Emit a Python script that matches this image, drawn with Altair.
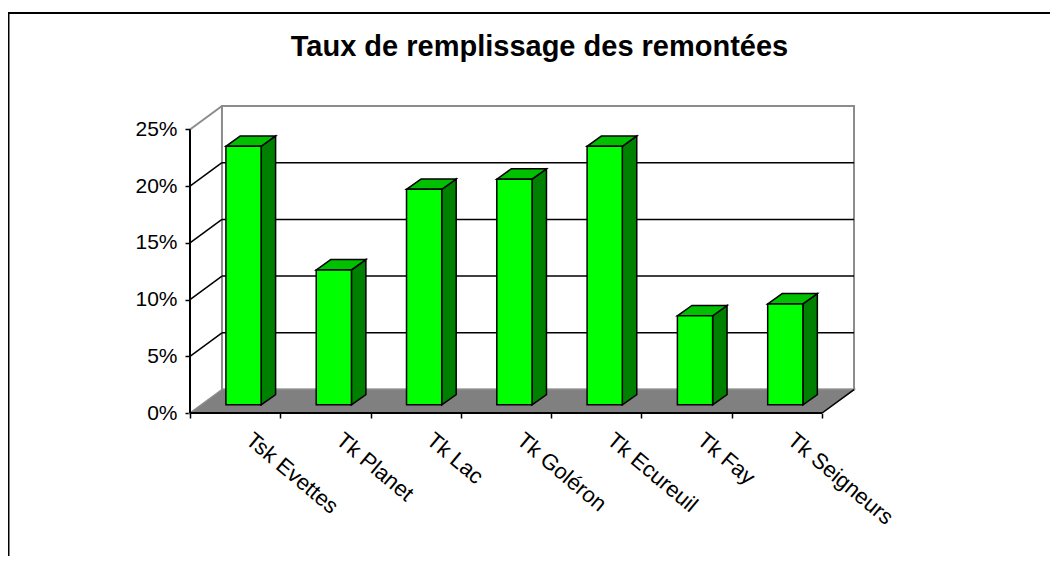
import altair as alt
import pandas as pd

# ---- data ----
categories = ["Tsk Evettes", "Tk Planet", "Tk Lac", "Tk Goléron",
              "Tk Ecureuil", "Tk Fay", "Tk Seigneurs"]
values = [22.8, 11.9, 19.0, 19.9, 22.8, 7.85, 8.9]   # percent
y_ticks = [0, 5, 10, 15, 20, 25]
title_text = "Taux de remplissage des remontées"

# ---- pseudo-3D styling constants (data units) ----
N = len(categories)
DXW, DYW = 0.354, 2.07          # depth of the floor / walls
XMAX = N + DXW
YMAX = 27.16
BAR_L, BAR_R = 0.398, 0.788     # bar front face inside its slot
BAR_BASE = 0.72                 # bars stand a bit behind the front edge
BAR_DX, BAR_DY = 0.16, 0.91     # bar depth
FONT = "Liberation Sans"

bars = pd.DataFrame({"idx": list(range(N)), "name": categories, "value": values})
bars["x0"] = bars["idx"] + BAR_L
bars["x1"] = bars["idx"] + BAR_R
bars["y0"] = BAR_BASE
bars["y1"] = BAR_BASE + bars["value"]

side_rows, top_rows = [], []
for _, r in bars.iterrows():
    side_rows.append({"idx": r.idx, "sx": r.x1, "sy0": r.y0, "sy1": r.y1})
    side_rows.append({"idx": r.idx, "sx": r.x1 + BAR_DX, "sy0": r.y0 + BAR_DY, "sy1": r.y1 + BAR_DY})
    top_rows.append({"idx": r.idx, "ty": r.y1, "tx0": r.x0, "tx1": r.x1})
    top_rows.append({"idx": r.idx, "ty": r.y1 + BAR_DY, "tx0": r.x0 + BAR_DX, "tx1": r.x1 + BAR_DX})
side = pd.DataFrame(side_rows)
top = pd.DataFrame(top_rows)

floor = pd.DataFrame({"fy": [0, DYW], "fx0": [0, DXW], "fx1": [N, N + DXW]})
ticks_df = pd.DataFrame({"v": y_ticks})
grid_df = ticks_df[(ticks_df.v > 0) & (ticks_df.v < max(y_ticks))]
one = pd.DataFrame({"k": [0]})

xs = alt.Scale(domain=[0, XMAX], nice=False, zero=False)
ys = alt.Scale(domain=[0, YMAX], nice=False, zero=False)

names_js = "[" + ",".join("'" + c + "'" for c in categories) + ",'']"

XA = alt.Axis(
    values=list(range(N + 1)), title=None, domain=False, grid=False,
    tickColor="black", tickSize=5, tickWidth=1.5,
    labelExpr=f"{names_js}[round(datum.value)]",
    labelAngle=40, labelAlign="left", labelBaseline="top",
    labelOffset=65, labelPadding=11, labelFont=FONT, labelFontSize=22,
    labelColor="black", labelOverlap=False, labelBound=False, labelFlush=False)
YA = alt.Axis(
    values=y_ticks, title=None, domain=False, grid=False,
    tickColor="black", tickSize=5, tickWidth=1.5,
    labelExpr="datum.value + '%'", labelPadding=8,
    labelFont=FONT, labelFontSize=21, labelColor="black")

# frame (only left and top edges visible in the reference)
frame = alt.Chart(one).mark_rect(fill="white", fillOpacity=0, stroke="black", strokeWidth=2).encode(
    x=alt.value(-181.5), x2=alt.value(1200), y=alt.value(-92), y2=alt.value(800))

title = alt.Chart(one).mark_text(text=title_text, font=FONT, fontSize=29, fontWeight="bold",
                                 align="center", baseline="alphabetic", color="black").encode(
    x=alt.value(349.5), y=alt.value(-49))

# back wall
wall = alt.Chart(one).mark_rect(fill="white", stroke="#8c8c8c", strokeWidth=2).encode(
    x=alt.datum(DXW, scale=xs, axis=XA), x2=alt.datum(XMAX),
    y=alt.datum(DYW, scale=ys, axis=YA), y2=alt.datum(DYW + max(y_ticks)))

wall_grid = alt.Chart(grid_df).transform_calculate(yb=f"datum.v + {DYW}").mark_rule(
    color="black", strokeWidth=1.5).encode(
    x=alt.datum(DXW, scale=xs, axis=XA), x2=alt.datum(XMAX),
    y=alt.Y("yb:Q", scale=ys, axis=YA))

side_wall = alt.Chart(grid_df).transform_calculate(yb=f"datum.v + {DYW}").mark_rule(
    color="black", strokeWidth=1.5).encode(
    x=alt.datum(0, scale=xs, axis=XA), x2=alt.datum(DXW),
    y=alt.Y("v:Q", scale=ys, axis=YA), y2="yb:Q")

side_top = alt.Chart(one).mark_rule(color="#8c8c8c", strokeWidth=2).encode(
    x=alt.datum(0, scale=xs, axis=XA), x2=alt.datum(DXW),
    y=alt.datum(max(y_ticks), scale=ys, axis=YA), y2=alt.datum(max(y_ticks) + DYW))

floor_l = alt.Chart(floor).mark_area(orient="horizontal", color="#808080",
                                     stroke="#8c8c8c", strokeWidth=1.5).encode(
    y=alt.Y("fy:Q", scale=ys, axis=YA),
    x=alt.X("fx0:Q", scale=xs, axis=XA), x2="fx1:Q")

floor_right = alt.Chart(one).mark_rule(color="black", strokeWidth=1.5).encode(
    x=alt.datum(N, scale=xs, axis=XA), x2=alt.datum(N + DXW),
    y=alt.datum(0, scale=ys, axis=YA), y2=alt.datum(DYW))

# bars
bar_side = alt.Chart(side).mark_area(color="#008000", stroke="black", strokeWidth=1.5).encode(
    x=alt.X("sx:Q", scale=xs, axis=XA),
    y=alt.Y("sy0:Q", scale=ys, axis=YA), y2="sy1:Q", detail="idx:N")

bar_top = alt.Chart(top).mark_area(orient="horizontal", color="#00C000", stroke="black",
                                   strokeWidth=1.5).encode(
    y=alt.Y("ty:Q", scale=ys, axis=YA),
    x=alt.X("tx0:Q", scale=xs, axis=XA), x2="tx1:Q", detail="idx:N")

bar_front = alt.Chart(bars).mark_rect(color="#00FF00", stroke="black", strokeWidth=1.5).encode(
    x=alt.X("x0:Q", scale=xs, axis=XA), x2="x1:Q",
    y=alt.Y("y0:Q", scale=ys, axis=YA), y2="y1:Q",
    tooltip=["name:N", "value:Q"])

# front axis lines
x_line = alt.Chart(one).mark_rule(color="black", strokeWidth=2).encode(
    x=alt.datum(0, scale=xs, axis=XA), x2=alt.datum(N),
    y=alt.datum(0, scale=ys, axis=YA))

y_line = alt.Chart(one).mark_rule(color="black", strokeWidth=2).encode(
    x=alt.datum(0, scale=xs, axis=XA),
    y=alt.datum(0, scale=ys, axis=YA), y2=alt.datum(max(y_ticks)))

chart = alt.layer(
    frame, title, wall, wall_grid, side_wall, side_top, floor_l, floor_right,
    bar_side, bar_top, bar_front, x_line, y_line
).properties(
    width=664, height=308,
    autosize=alt.AutoSizeParams(type="none"),
    padding={"left": 182, "top": 97, "right": 196, "bottom": 143},
    background="white",
).configure_view(stroke=None)

chart.save("out.html", embed_options={"renderer": "svg", "actions": False})
